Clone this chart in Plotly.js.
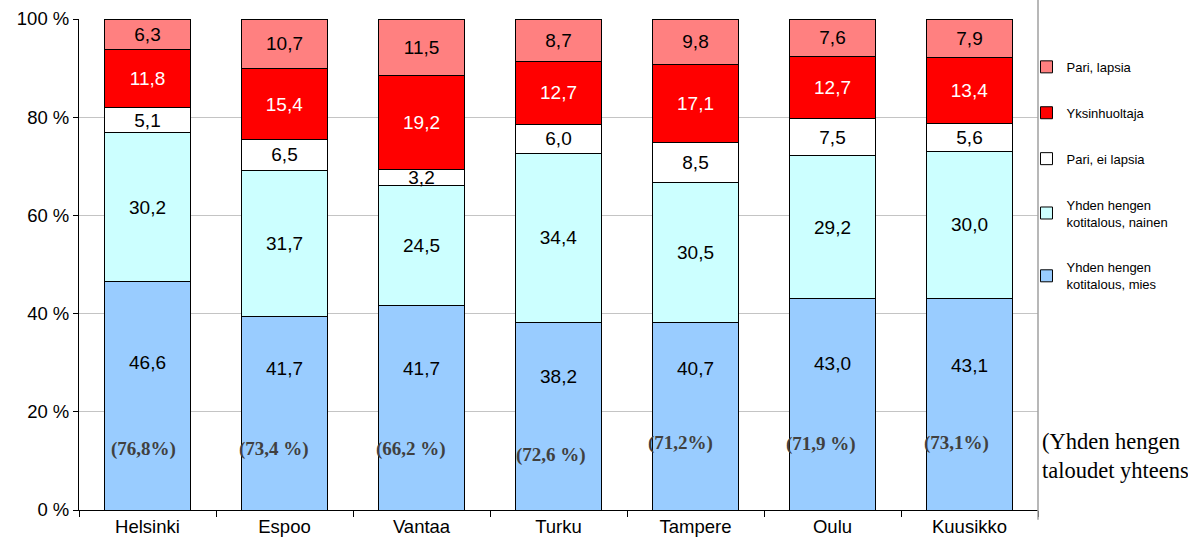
<!DOCTYPE html>
<html><head><meta charset="utf-8">
<script src="https://cdn.plot.ly/plotly-3.0.1.min.js"></script>
<style>html,body{margin:0;padding:0;background:#fff}#chart{width:1188px;height:547px}</style>
</head><body><div id="chart"></div>
<script>
const categories = ['Helsinki','Espoo','Vantaa','Turku','Tampere','Oulu','Kuusikko'];
const mies = [46.6, 41.7, 41.7, 38.2, 40.7, 43.0, 43.1];
const nainen = [30.2, 31.7, 24.5, 34.4, 30.5, 29.2, 30.0];
const pariEiLapsia = [5.1, 6.5, 3.2, 6.0, 8.5, 7.5, 5.6];
const yksinhuoltaja = [11.8, 15.4, 19.2, 12.7, 17.1, 12.7, 13.4];
const pariLapsia = [6.3, 10.7, 11.5, 8.7, 9.8, 7.6, 7.9];
const totalLabels = ['(76,8%)','(73,4 %)','(66,2 %)','(72,6 %)','(71,2%)','(71,9 %)','(73,1%)'];

const fmt = v => v.toFixed(1).replace('.', ',');
const F = 'Liberation Sans, Arial, sans-serif';
const SERIF = 'Liberation Serif, Times New Roman, serif';

function tr(name, vals, color, txtColor, showText, rank){
  return {type:'bar', name:name, x:categories, y:vals, legendgroup:name, legendrank:rank,
    marker:{color:color, line:{color:'#000', width:1}},
    text: showText ? vals.map(fmt) : null, textposition: showText ? 'inside' : 'none',
    insidetextanchor:'middle', constraintext:'none',
    textfont:{family:F, size:19, color:txtColor}, hoverinfo:'skip'};
}
const data = [
  tr('Yhden hengen<br>kotitalous, mies', mies, '#99CCFF', '#000', false, 5),
  tr('Yhden hengen<br>kotitalous, nainen', nainen, '#CCFFFF', '#000', true, 4),
  tr('Pari, ei lapsia', pariEiLapsia, '#FFFFFF', '#000', true, 3),
  tr('Yksinhuoltaja', yksinhuoltaja, '#FF0000', '#fff', true, 2),
  tr('Pari, lapsia', pariLapsia, '#FF8080', '#000', true, 1)
];

// label positions (percent of bar height) for the bottom segment labels
const miesLabelY = [30.1, 28.9, 28.9, 27.1, 28.9, 29.9, 29.5];
const annY = [12.4, 12.4, 12.4, 11.2, 13.6, 13.4, 13.6];
const annShift = [-4, -11, -11, -8, -15, -12, -13];
const annotations = [];
mies.forEach((v,i)=>annotations.push({x:categories[i], y:miesLabelY[i], xref:'x', yref:'y',
  text:fmt(v), showarrow:false, font:{family:F, size:19, color:'#000'}}));
totalLabels.forEach((t,i)=>annotations.push({x:categories[i], y:annY[i], xref:'x', yref:'y',
  text:'<b>'+t+'</b>', showarrow:false, xshift:annShift[i],
  font:{family:SERIF, size:19, color:'#404040'}}));
annotations.push({xref:'paper', yref:'y', x:1, y:11.0, xshift:2, xanchor:'left', yanchor:'middle', align:'left',
  text:'(Yhden hengen<br>taloudet yhteensä)', showarrow:false,
  font:{family:SERIF, size:22.5, color:'#000'}});

const layout = {
  width:1188, height:547,
  margin:{l:79, r:150, t:19, b:37},
  paper_bgcolor:'#fff', plot_bgcolor:'#fff',
  barmode:'stack', barnorm:'percent', bargap:0.372,
  showlegend:true,
  legend:{x:0.988, xanchor:'left', y:0.933, yanchor:'top', traceorder:'grouped',
    tracegroupgap:26, itemwidth:30, font:{family:F, size:13, color:'#000'}, bgcolor:'rgba(0,0,0,0)'},
  uniformtext:{mode:'show', minsize:19},
  xaxis:{showline:true, linecolor:'#000', linewidth:1, ticks:'outside', ticklen:6, tickcolor:'#000',
    tickson:'boundaries', showgrid:false, tickfont:{family:F, size:18.5, color:'#000'}, fixedrange:true},
  yaxis:{range:[0,100], dtick:20, ticksuffix:' %', showline:true, linecolor:'#000', linewidth:1,
    ticks:'outside', ticklen:5, tickcolor:'#000', showgrid:true, gridcolor:'#c4c4c4', gridwidth:1,
    zeroline:false, tickfont:{family:F, size:18.5, color:'#000'}, fixedrange:true},
  annotations:annotations,
  shapes:[{type:'line', xref:'paper', yref:'paper', x0:1, x1:1, y0:-0.02, y1:1.04,
    line:{color:'#a0a0a0', width:1.5}}]
};
Plotly.newPlot('chart', data, layout, {displayModeBar:false, staticPlot:true});
</script></body></html>
